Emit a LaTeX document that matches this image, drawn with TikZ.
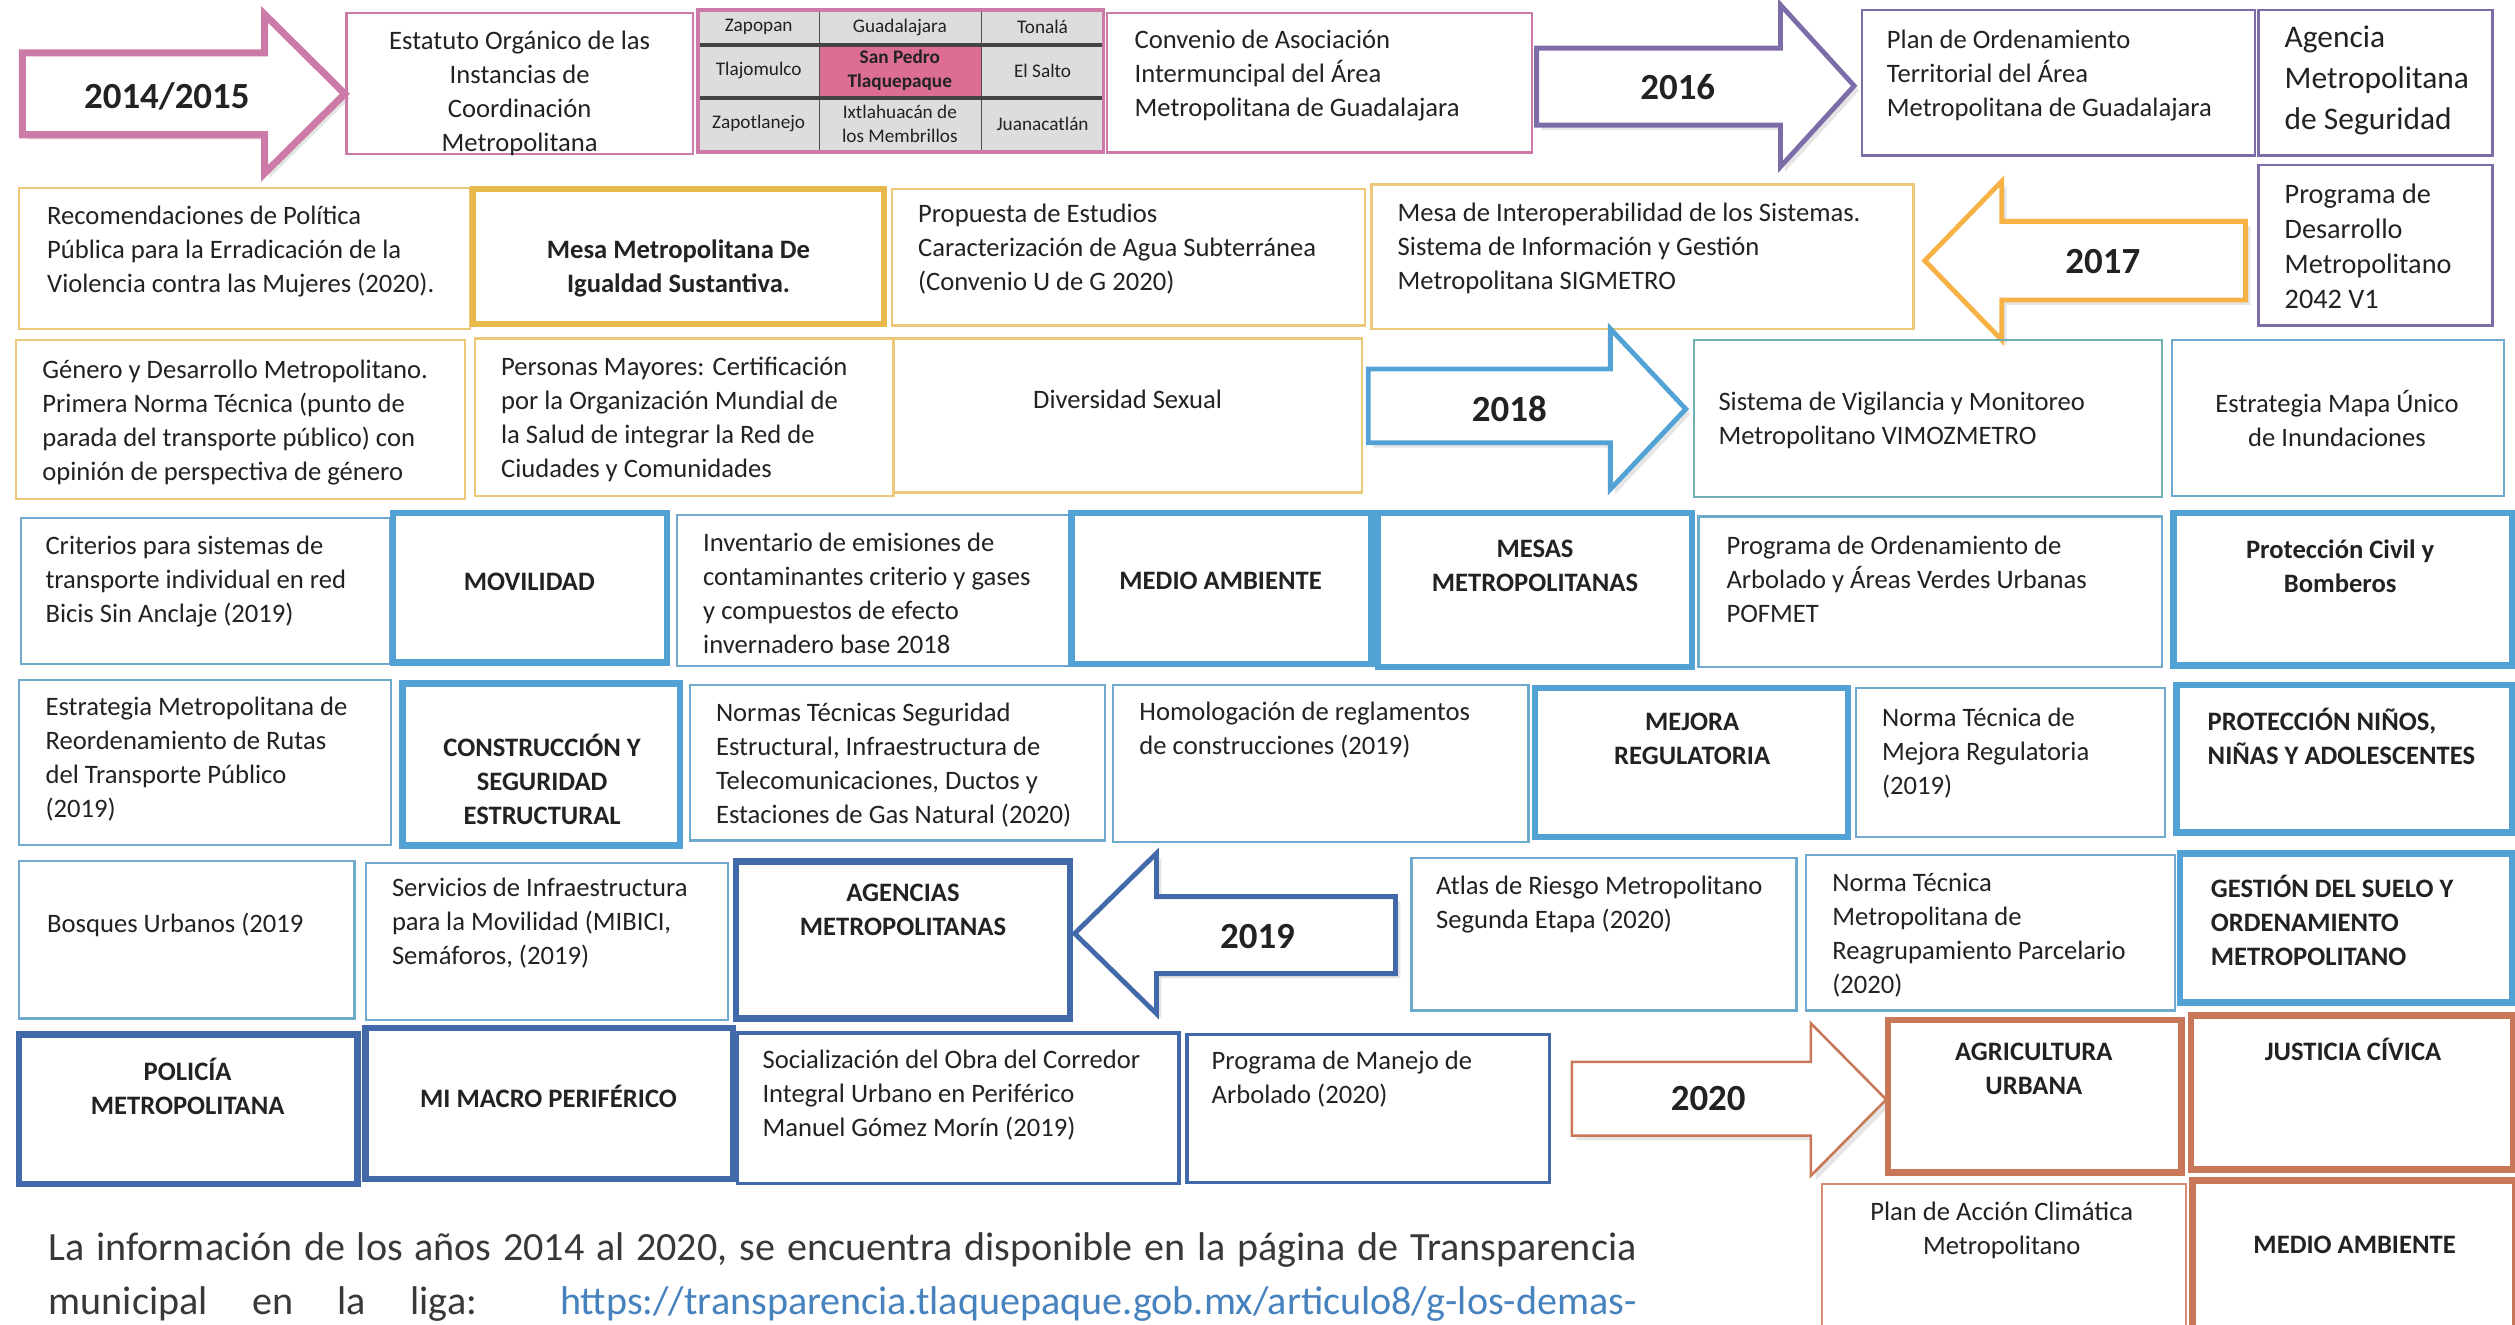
\documentclass[tikz,border=0pt]{standalone}
\usepackage{fontspec}
\setmainfont{Carlito}
\usepackage{tikz}
\usetikzlibrary{fit,shadows}

\definecolor{ink}{RGB}{34,34,34}
\definecolor{pinkline}{RGB}{204,122,168}
\definecolor{tablepink}{RGB}{220,110,145}
\definecolor{tablegray}{RGB}{221,221,221}
\definecolor{purpleline}{RGB}{125,108,168}
\definecolor{goldthin}{RGB}{236,200,120}
\definecolor{goldthick}{RGB}{232,184,74}
\definecolor{orangearrow}{RGB}{247,178,70}
\definecolor{tealline}{RGB}{110,175,180}
\definecolor{bluethin}{RGB}{110,170,205}
\definecolor{bluethick}{RGB}{82,162,214}
\definecolor{navy}{RGB}{66,106,170}
\definecolor{brownline}{RGB}{200,120,88}
\definecolor{linkblue}{RGB}{70,130,190}

\begin{document}
\begin{tikzpicture}[x=0.5pt,y=-0.5pt]

% Box style
\tikzset{
    thinbox/.style={draw, inner sep=0pt, line width=0.7pt},
    thickbox/.style={draw, inner sep=0pt, line width=2pt},
    txt/.style={inner sep=0pt, align=left, anchor=north west, text=ink, font=\fontsize{8.3}{10.6}\selectfont},
    ctxt/.style={txt, align=center, anchor=north},
    btxt/.style={ctxt, font=\bfseries\fontsize{8.3}{10.6}\selectfont},
    cell/.style={inner sep=0pt, align=center, text=ink, font=\fontsize{6}{7.5}\selectfont},
    year/.style={inner sep=0pt, text=ink, font=\bfseries\fontsize{11.5}{13}\selectfont},
    yeararrow/.style={fill=white, line width=1.5pt, line join=miter,
        drop shadow={opacity=0.2, shadow xshift=1.5pt, shadow yshift=-1.5pt}}
}

\useasboundingbox (0,0) rectangle (1568,826);
\fill[white] (0,0) rectangle (1568,826);

% Row 1 (2014/2015, 2016)
\draw[yeararrow, draw=pinkline, line width=2.2pt] (14,33) -- (165,33) -- (165,9) -- (215,58.5) -- (165,108) -- (165,84) -- (14,84) -- cycle;
\node[year] (Ya) at (104,60){2014/2015};

\node[thinbox, draw=pinkline, fit={(216,8) (432,96)}] (EST){};
\node[ctxt] (ESTt) at (324,19){Estatuto Orgánico de las\\Instancias de\\Coordinación\\Metropolitana};

\fill[tablegray] (435,6) rectangle (688,95);
\fill[tablepink] (511,28) rectangle (612,61);
\draw[ink!80, line width=0.5pt] (511,6) -- (511,95) (612,6) -- (612,95);
\draw[ink!85, line width=1.2pt] (435,28) -- (688,28) (435,61) -- (688,61);
\node[thickbox, line width=1.2pt, draw=pinkline, fit={(435,6) (688,95)}] (TAB){};
\node[cell] (ZAP) at (473,17){Zapopan};
\node[cell] (GDL) at (561,17){Guadalajara};
\node[cell] (TON) at (650,17){Tonalá};
\node[cell] (TLJ) at (473,44){Tlajomulco};
\node[cell, font=\bfseries\fontsize{6}{7.5}\selectfont] (SPT) at (561,44){San Pedro\\Tlaquepaque};
\node[cell] (SAL) at (650,44){El Salto};
\node[cell] (ZPT) at (473,77){Zapotlanejo};
\node[cell] (IXT) at (561,77){Ixtlahuacán de\\los Membrillos};
\node[cell] (JUA) at (650,77){Juanacatlán};

\node[thinbox, draw=pinkline, fit={(690,8) (955,95)}] (CONV){};
\node[txt] (CONVt) at (707,18){Convenio de Asociación\\Intermuncipal del Área\\Metropolitana de Guadalajara};

\draw[yeararrow, draw=purpleline] (958,30) -- (1110,30) -- (1110,3) -- (1156,53.5) -- (1110,104) -- (1110,78) -- (958,78) -- cycle;
\node[year] (Yb) at (1046,54){2016};

\node[thinbox, draw=purpleline, fit={(1161,6) (1406,97)}] (POT){};
\node[txt] (POTt) at (1176,18){Plan de Ordenamiento\\Territorial del Área\\Metropolitana de Guadalajara};
\node[thinbox, draw=purpleline, fit={(1408,6) (1554,97)}] (AMS){};
\node[txt, font=\fontsize{9.8}{12.7}\selectfont] (AMSt) at (1424,16){Agencia\\Metropolitana\\de Seguridad};
\node[thinbox, draw=purpleline, fit={(1408,103) (1554,203)}] (PDM){};
\node[txt, font=\fontsize{8.8}{11}\selectfont] (PDMt) at (1424,114){Programa de\\Desarrollo\\Metropolitano\\2042 V1};

% Row 2 (2017)
\node[thinbox, draw=goldthin, fit={(12,117) (293,205)}] (REC){};
\node[txt] (RECt) at (29,128){Recomendaciones de Política\\Pública para la Erradicación de la\\Violencia contra las Mujeres (2020).};
\node[thickbox, draw=goldthick, fit={(295,118) (551,202)}] (MIS){};
\node[btxt] (MISt) at (423,149){Mesa Metropolitana De\\Igualdad Sustantiva.};
\node[thinbox, draw=goldthin, fit={(556,118) (851,203)}] (AGUA){};
\node[txt] (AGUAt) at (572,127){Propuesta de Estudios\\Caracterización de Agua Subterránea\\(Convenio U de G 2020)};
\node[thinbox, draw=goldthin, fit={(855,115) (1193,205)}] (SIG){};
\node[txt] (SIGt) at (871,126){Mesa de Interoperabilidad de los Sistemas.\\Sistema de Información y Gestión\\Metropolitana SIGMETRO};

\draw[yeararrow, draw=orangearrow] (1400,138) -- (1248,138) -- (1248,113) -- (1200,162.5) -- (1248,212) -- (1248,187) -- (1400,187) -- cycle;
\node[year] (Yc) at (1311,163){2017};

% Row 3 (2018)
\node[thinbox, draw=goldthin, fit={(10,212) (290,311)}] (GEN){};
\node[txt] (GENt) at (26,224){Género y Desarrollo Metropolitano.\\Primera Norma Técnica (punto de\\parada del transporte público) con\\opinión de perspectiva de género};
\node[thinbox, draw=goldthin, fit={(296,211) (557,309)}] (PM){};
\node[txt] (PMt) at (312,222){Personas Mayores: Certificación\\por la Organización Mundial de\\la Salud de integrar la Red de\\Ciudades y Comunidades};
\node[thinbox, draw=goldthin, fit={(557,211) (849,307)}] (DIV){};
\node[ctxt] (DIVt) at (703,243){Diversidad Sexual};

\draw[yeararrow, draw=bluethick] (853,230) -- (1004,230) -- (1004,205) -- (1051,255) -- (1004,305) -- (1004,276) -- (853,276) -- cycle;
\node[year] (Yd) at (941,255){2018};

\node[thinbox, draw=tealline, fit={(1056,212) (1348,310)}] (VIM){};
\node[txt] (VIMt) at (1071,244){Sistema de Vigilancia y Monitoreo\\Metropolitano VIMOZMETRO};
\node[thinbox, draw=bluethin, fit={(1354,212) (1561,309)}] (INU){};
\node[ctxt] (INUt) at (1457,243){Estrategia Mapa Único\\de Inundaciones};

% Row 4
\node[thinbox, draw=bluethin, fit={(13,323) (243,414)}] (CRI){};
\node[txt] (CRIt) at (28,334){Criterios para sistemas de\\transporte individual en red\\Bicis Sin Anclaje (2019)};
\node[thickbox, draw=bluethick, fit={(245,320) (416,413)}] (MOV){};
\node[btxt] (MOVt) at (330,357){MOVILIDAD};
\node[thinbox, draw=bluethin, fit={(422,321) (667,415)}] (INV){};
\node[txt] (INVt) at (438,332){Inventario de emisiones de\\contaminantes criterio y gases\\y compuestos de efecto\\invernadero base 2018};
\node[thickbox, draw=bluethick, fit={(668,320) (855,414)}] (MA){};
\node[btxt] (MAt) at (761,356){MEDIO AMBIENTE};
\node[thickbox, draw=bluethick, fit={(859,320) (1055,416)}] (MES){};
\node[btxt] (MESt) at (957,336){MESAS\\METROPOLITANAS};
\node[thinbox, draw=bluethin, fit={(1059,322) (1348,416)}] (POF){};
\node[txt] (POFt) at (1076,334){Programa de Ordenamiento de\\Arbolado y Áreas Verdes Urbanas\\POFMET};
\node[thickbox, draw=bluethick, fit={(1355,320) (1566,415)}] (PC){};
\node[btxt] (PCt) at (1459,336){Protección Civil y\\Bomberos};

% Row 5
\node[thinbox, draw=bluethin, fit={(12,424) (244,527)}] (RUT){};
\node[txt] (RUTt) at (28,434){Estrategia Metropolitana de\\Reordenamiento de Rutas\\del Transporte Público\\(2019)};
\node[thickbox, draw=bluethick, fit={(251,426) (424,527)}] (CSE){};
\node[btxt] (CSEt) at (338,457){CONSTRUCCIÓN Y\\SEGURIDAD\\ESTRUCTURAL};
\node[thinbox, draw=bluethin, fit={(430,427) (689,524)}] (NTS){};
\node[txt] (NTSt) at (446,438){Normas Técnicas Seguridad\\Estructural, Infraestructura de\\Telecomunicaciones, Ductos y\\Estaciones de Gas Natural (2020)};
\node[thinbox, draw=bluethin, fit={(694,427) (953,525)}] (HOM){};
\node[txt] (HOMt) at (710,437){Homologación de reglamentos\\de construcciones (2019)};
\node[thickbox, draw=bluethick, fit={(957,429) (1152,522)}] (MR){};
\node[btxt] (MRt) at (1055,444){MEJORA\\REGULATORIA};
\node[thinbox, draw=bluethin, fit={(1157,429) (1350,522)}] (NTM){};
\node[txt] (NTMt) at (1173,441){Norma Técnica de\\Mejora Regulatoria\\(2019)};
\node[thickbox, draw=bluethick, fit={(1357,427) (1566,519)}] (PNA){};
\node[btxt, align=left, anchor=north west] (PNAt) at (1376,441){PROTECCIÓN NIÑOS,\\NIÑAS Y ADOLESCENTES};

% Row 6 (2019)
\node[thinbox, draw=bluethin, fit={(12,537) (221,635)}] (BOS){};
\node[txt] (BOSt) at (29,569){Bosques Urbanos (2019};
\node[thinbox, draw=bluethin, fit={(228,538) (454,636)}] (SIM){};
\node[txt] (SIMt) at (244,547){Servicios de Infraestructura\\para la Movilidad (MIBICI,\\Semáforos, (2019)};
\node[thickbox, draw=navy, fit={(459,537) (667,635)}] (AGM){};
\node[btxt] (AGMt) at (563,551){AGENCIAS\\METROPOLITANAS};

\draw[yeararrow, draw=navy] (870,559) -- (721,559) -- (721,532) -- (670,582) -- (721,632) -- (721,607) -- (870,607) -- cycle;
\node[year] (Ye) at (784,584){2019};

\node[thinbox, draw=bluethin, fit={(880,535) (1120,630)}] (ATL){};
\node[txt] (ATLt) at (895,546){Atlas de Riesgo Metropolitano\\Segunda Etapa (2020)};
\node[thinbox, draw=bluethin, fit={(1126,533) (1356,630)}] (NRP){};
\node[txt] (NRPt) at (1142,544){Norma Técnica\\Metropolitana de\\Reagrupamiento Parcelario\\(2020)};
\node[thickbox, draw=bluethick, fit={(1359,532) (1566,625)}] (GSO){};
\node[btxt, align=left, anchor=north west] (GSOt) at (1378,545){GESTIÓN DEL SUELO Y\\ORDENAMIENTO\\METROPOLITANO};

% Row 7 (2020)
\node[thickbox, draw=navy, fit={(12,645) (223,738)}] (POL){};
\node[btxt] (POLt) at (117,659){POLICÍA\\METROPOLITANA};
\node[thickbox, draw=navy, fit={(228,641) (457,735)}] (MMP){};
\node[btxt] (MMPt) at (342,676){MI MACRO PERIFÉRICO};
\node[thinbox, line width=1pt, draw=navy, fit={(460,644) (735,738)}] (COR){};
\node[txt] (CORt) at (475,654){Socialización del Obra del Corredor\\Integral Urbano en Periférico\\Manuel Gómez Morín (2019)};
\node[thinbox, line width=1pt, draw=navy, fit={(740,645) (966,737)}] (ARB){};
\node[txt] (ARBt) at (755,655){Programa de Manejo de\\Arbolado (2020)};

\draw[yeararrow, draw=brownline, line width=0.8pt] (980,662) -- (1129,662) -- (1129,638) -- (1176,685.5) -- (1129,733) -- (1129,708) -- (980,708) -- cycle;
\node[year] (Yf) at (1065,685){2020};

\node[thickbox, draw=brownline, fit={(1177,636) (1360,731)}] (AGU){};
\node[btxt] (AGUt) at (1268,650){AGRICULTURA\\URBANA};
\node[thickbox, draw=brownline, fit={(1366,633) (1567,729)}] (JC){};
\node[btxt] (JCt) at (1467,647){JUSTICIA CÍVICA};
\node[thinbox, draw=brownline!70!pink, fit={(1136,738) (1363,840)}] (PAC){};
\node[ctxt] (PACt) at (1248,749){Plan de Acción Climática\\Metropolitano};
\node[thickbox, draw=brownline, fit={(1367,736) (1568,840)}] (MAb){};
\node[btxt] (MAbt) at (1468,770){MEDIO AMBIENTE};

% Note
\node[txt, font=\fontsize{12.5}{17}\selectfont, text=ink!90] (INFO) at (30,768){\makebox[495pt][s]{La información de los años 2014 al 2020, se encuentra disponible en la página de Transparencia}\\\makebox[495pt][s]{municipal en la liga: \textcolor{linkblue}{https://transparencia.tlaquepaque.gob.mx/articulo8/g-los-demas-}}};

\end{tikzpicture}
\end{document}
